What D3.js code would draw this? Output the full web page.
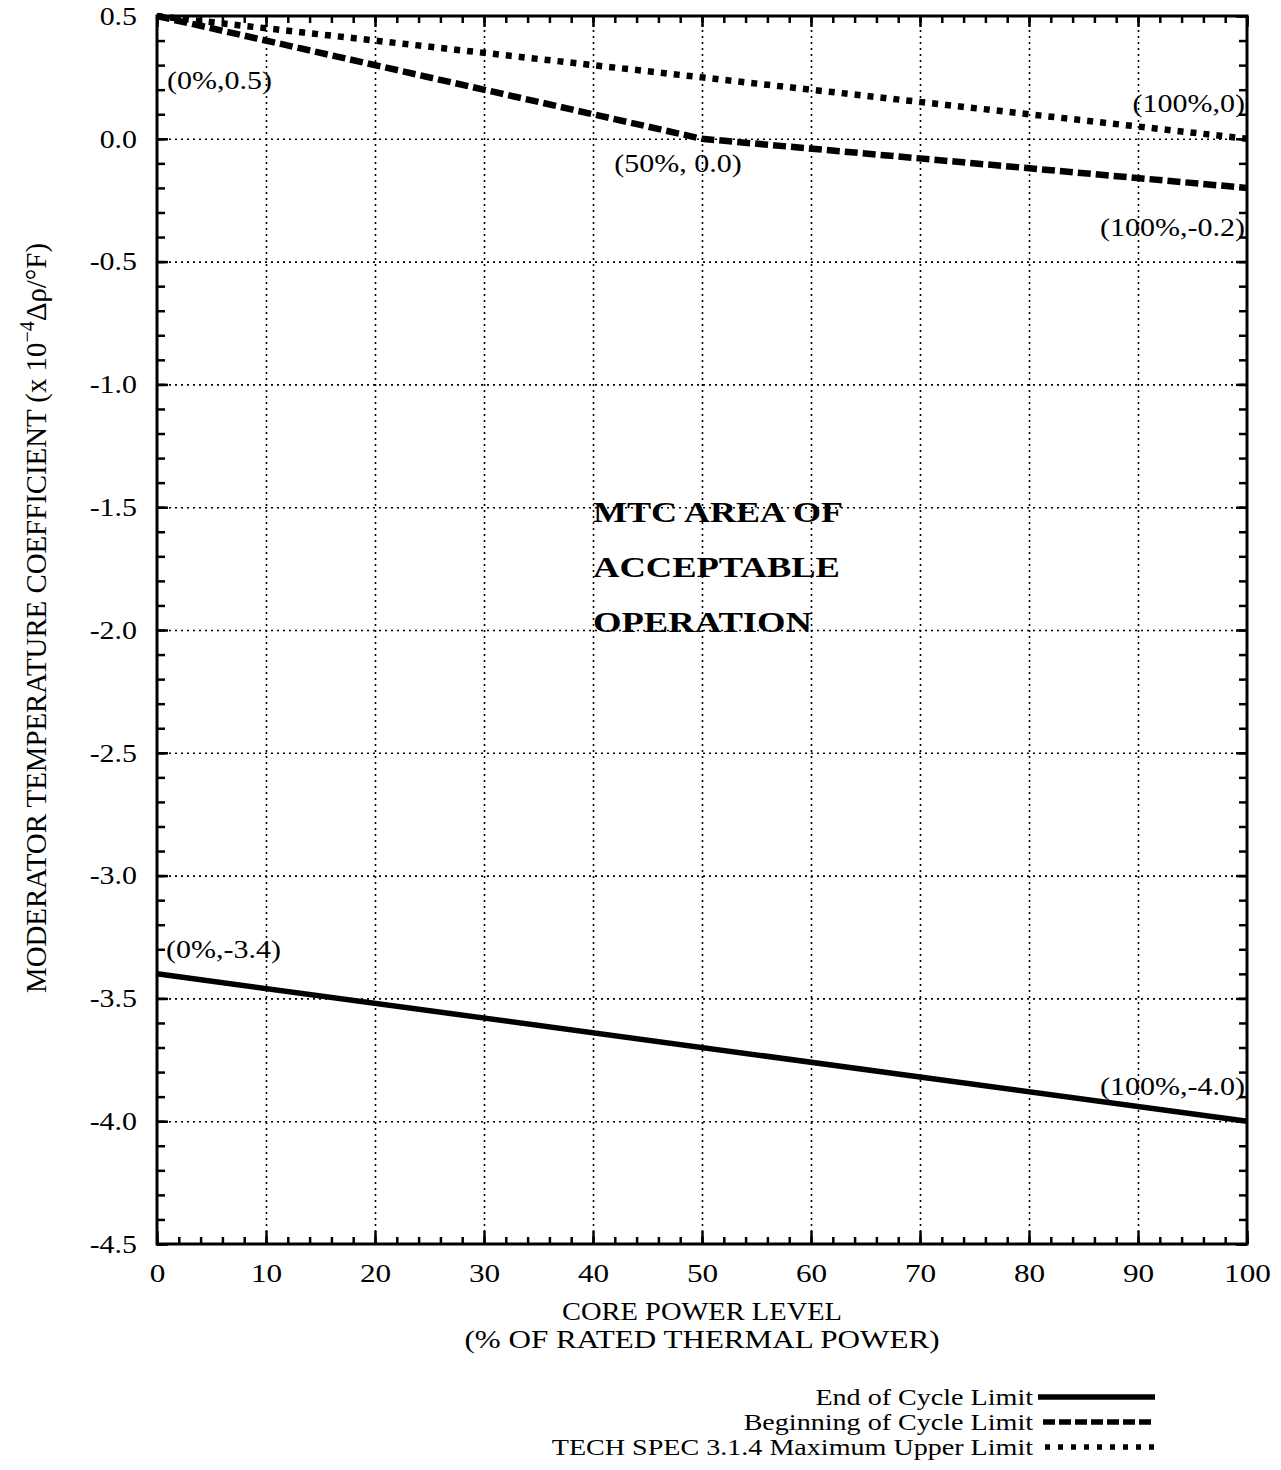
<html>
<head>
<meta charset="utf-8">
<script src="https://d3js.org/d3.v7.min.js"></script>
<style>
	body { margin: 0; background: #fff; }
	text { font-family: 'Liberation Serif', 'Times New Roman', serif; fill: #000; }
	.grid line { stroke: #000; stroke-width: 1.6; stroke-dasharray: 2,4; }
	.grid path { display: none; }
	.ticks line { stroke: #000; stroke-width: 2.5; }
	.ticks path { display: none; }
	.labels path, .labels line { display: none; }
	.labels text { font-size: 26px; font-family: 'Liberation Serif', serif; }
</style>
</head>
<body>
<svg id="svg" width="1281" height="1470"></svg>
<script>
'use strict';

// data
const power = [0, 50, 100];
const boc_limit = [0.5, 0.0, -0.2];
const eoc_power = [0, 100];
const eoc_limit = [-3.4, -4.0];
const tech_power = [0, 100];
const tech_limit = [0.5, 0.0];

const x_ticks = [0, 10, 20, 30, 40, 50, 60, 70, 80, 90, 100];
const y_ticks = [0.5, 0.0, -0.5, -1.0, -1.5, -2.0, -2.5, -3.0, -3.5, -4.0, -4.5];
const x_minor = d3.range(0, 101, 2);
const y_minor = d3.range(-45, 6, 1).map(d => d / 10);

const label_texts = ['(0%,0.5)', '(100%,0)', '(50%, 0.0)', '(100%,-0.2)', '(0%,-3.4)', '(100%,-4.0)'];
const label_points = [[0, 0.5], [100, 0.0], [50, 0.0], [100, -0.2], [0, -3.4], [100, -4.0]];

const legend_names = ['End of Cycle Limit', 'Beginning of Cycle Limit', 'TECH SPEC 3.1.4 Maximum Upper Limit'];

// layout
const m_left = 157, m_right = 1247, m_top = 16, m_bottom = 1244;
const label_offsets = [
	{anchor: 'start', dx: 10, dy: 73},
	{anchor: 'end', dx: -2, dy: -27},
	{anchor: 'middle', dx: -24, dy: 33},
	{anchor: 'end', dx: -2, dy: 48},
	{anchor: 'start', dx: 9, dy: -16},
	{anchor: 'end', dx: -2, dy: -26}
];
const legend_dash = [null, '12,4', '5,8'];

const x = d3.scaleLinear().domain([0, 100]).range([m_left, m_right]);
const y = d3.scaleLinear().domain([-4.5, 0.5]).range([m_bottom, m_top]);

const svg = d3.select('#svg');

// widen text to match the wide typeface of the original
function stretch(sel, k) {
	sel.each(function() {
		const w = this.getComputedTextLength();
		d3.select(this).attr('textLength', w * k).attr('lengthAdjust', 'spacingAndGlyphs');
	});
}

// grid
svg.append('g').attr('class', 'grid')
	.attr('transform', `translate(0,${m_bottom})`)
	.call(d3.axisBottom(x).tickValues(x_ticks.slice(1, -1)).tickSize(-(m_bottom - m_top)).tickFormat(''));
svg.append('g').attr('class', 'grid')
	.attr('transform', `translate(${m_left},0)`)
	.call(d3.axisLeft(y).tickValues(y_ticks.slice(1, -1)).tickSize(-(m_right - m_left)).tickFormat(''));

// minor and major ticks, all pointing inward
const tk = (axis, vals, size) => axis.tickValues(vals).tickSize(size).tickFormat('');
svg.append('g').attr('class', 'ticks').attr('transform', `translate(0,${m_bottom})`).call(tk(d3.axisBottom(x), x_minor, -7));
svg.append('g').attr('class', 'ticks').attr('transform', `translate(0,${m_bottom})`).call(tk(d3.axisBottom(x), x_ticks, -13));
svg.append('g').attr('class', 'ticks').attr('transform', `translate(0,${m_top})`).call(tk(d3.axisTop(x), x_minor, -7));
svg.append('g').attr('class', 'ticks').attr('transform', `translate(0,${m_top})`).call(tk(d3.axisTop(x), x_ticks, -11));
svg.append('g').attr('class', 'ticks').attr('transform', `translate(${m_left},0)`).call(tk(d3.axisLeft(y), y_minor, -8));
svg.append('g').attr('class', 'ticks').attr('transform', `translate(${m_left},0)`).call(tk(d3.axisLeft(y), y_ticks, -11));
svg.append('g').attr('class', 'ticks').attr('transform', `translate(${m_right},0)`).call(tk(d3.axisRight(y), y_minor, -8));
svg.append('g').attr('class', 'ticks').attr('transform', `translate(${m_right},0)`).call(tk(d3.axisRight(y), y_ticks, -11));

// tick labels
svg.append('g').attr('class', 'labels')
	.attr('transform', `translate(0,${m_bottom})`)
	.call(d3.axisBottom(x).tickValues(x_ticks).tickSize(0).tickPadding(20).tickFormat(d => d))
	.selectAll('text').call(stretch, 1.2);
svg.append('g').attr('class', 'labels')
	.attr('transform', `translate(${m_left},0)`)
	.call(d3.axisLeft(y).tickValues(y_ticks).tickSize(0).tickPadding(20).tickFormat(d => d.toFixed(1)))
	.selectAll('text').call(stretch, 1.15);

// frame
svg.append('rect')
	.attr('x', m_left).attr('y', m_top)
	.attr('width', m_right - m_left).attr('height', m_bottom - m_top)
	.attr('fill', 'none').attr('stroke', '#000').attr('stroke-width', 3);

// series
const line = d3.line().x(d => x(d[0])).y(d => y(d[1]));
svg.append('path')
	.attr('d', line(d3.zip(eoc_power, eoc_limit)))
	.attr('fill', 'none').attr('stroke', '#000').attr('stroke-width', 5.5);
svg.append('path')
	.attr('d', line(d3.zip(power, boc_limit)))
	.attr('fill', 'none').attr('stroke', '#000').attr('stroke-width', 6.5)
	.attr('stroke-dasharray', '13,5');
svg.append('path')
	.attr('d', line(d3.zip(tech_power, tech_limit)))
	.attr('fill', 'none').attr('stroke', '#000').attr('stroke-width', 6.5)
	.attr('stroke-dasharray', '6,7');

// point labels
svg.append('g').selectAll('text')
	.data(label_texts)
	.join('text')
	.attr('x', (d, i) => x(label_points[i][0]) + label_offsets[i].dx)
	.attr('y', (d, i) => y(label_points[i][1]) + label_offsets[i].dy)
	.attr('text-anchor', (d, i) => label_offsets[i].anchor)
	.attr('font-size', 25)
	.text(d => d)
	.call(stretch, 1.2);

// area label
const area_lines = ['MTC AREA OF', 'ACCEPTABLE', 'OPERATION'];
svg.append('g').selectAll('text')
	.data(area_lines)
	.join('text')
	.attr('x', 593)
	.attr('y', (d, i) => 522 + i * 55)
	.attr('font-size', 30)
	.attr('font-weight', 'bold')
	.attr('textLength', (d, i) => [250, 247, 219][i])
	.attr('lengthAdjust', 'spacingAndGlyphs')
	.text(d => d);

// axis titles
svg.append('text')
	.attr('x', (m_left + m_right) / 2).attr('y', 1320)
	.attr('text-anchor', 'middle').attr('font-size', 25)
	.attr('textLength', 280).attr('lengthAdjust', 'spacingAndGlyphs')
	.text('CORE POWER LEVEL');
svg.append('text')
	.attr('x', (m_left + m_right) / 2).attr('y', 1348)
	.attr('text-anchor', 'middle').attr('font-size', 25)
	.attr('textLength', 475).attr('lengthAdjust', 'spacingAndGlyphs')
	.text('(% OF RATED THERMAL POWER)');

const ylab = svg.append('text')
	.attr('transform', `translate(46,618) rotate(-90)`)
	.attr('text-anchor', 'middle')
	.attr('font-size', 30)
	.attr('textLength', 750)
	.attr('lengthAdjust', 'spacingAndGlyphs');
ylab.append('tspan').text('MODERATOR TEMPERATURE COEFFICIENT (x 10');
ylab.append('tspan').attr('dy', -12).attr('font-size', 21).text('−4');
ylab.append('tspan').attr('dy', 12).text('Δρ/°F)');

// legend
const leg = svg.append('g').selectAll('g')
	.data(legend_names)
	.join('g')
	.attr('transform', (d, i) => `translate(0,${1405 + i * 25})`);
leg.append('text')
	.attr('x', 1033).attr('text-anchor', 'end').attr('font-size', 24)
	.text(d => d)
	.call(stretch, 1.17);
leg.append('line')
	.attr('x1', (d, i) => [1038, 1043, 1045][i]).attr('x2', 1155).attr('y1', -8).attr('y2', -8)
	.attr('stroke', '#000').attr('stroke-width', 5.5)
	.attr('stroke-dasharray', (d, i) => legend_dash[i]);
</script>
</body>
</html>
